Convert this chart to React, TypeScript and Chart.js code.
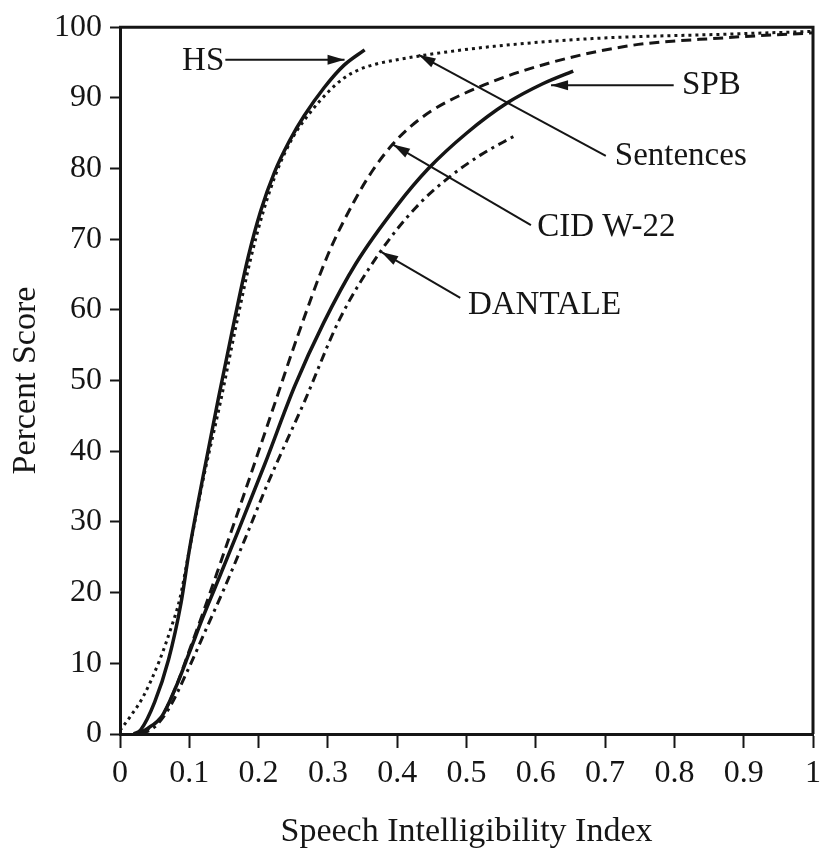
import React, { useEffect, useRef } from 'react';
import { Chart, registerables } from 'chart.js';

Chart.register(...registerables);

// ---- Data ----
const xTickValues = [0, 0.1, 0.2, 0.3, 0.4, 0.5, 0.6, 0.7, 0.8, 0.9, 1];
const yTickValues = [0, 10, 20, 30, 40, 50, 60, 70, 80, 90, 100];

const hsX = [0.02, 0.03, 0.05, 0.07, 0.088, 0.1, 0.12, 0.142, 0.165, 0.185, 0.203, 0.223, 0.245, 0.266, 0.295, 0.323, 0.353];
const hsY = [0, 0.6, 4.5, 10.5, 18.5, 26, 36.5, 47.5, 58.5, 67.5, 74, 79.5, 84, 87.5, 91.5, 94.6, 96.8];

const sentencesX = [0, 0.015, 0.033, 0.057, 0.074, 0.086, 0.1, 0.12, 0.145, 0.168, 0.188, 0.207, 0.228, 0.25, 0.275, 0.3, 0.323, 0.345, 0.37, 0.4, 0.45, 0.54, 0.683, 0.87, 1.0];
const sentencesY = [0.5, 2.5, 5.2, 10.4, 15.1, 19, 26, 36, 47, 58, 67, 74, 80, 84.5, 88, 90.8, 92.8, 94, 94.8, 95.4, 96.2, 97.3, 98.4, 99, 99.4];

const cidX = [0.03, 0.045, 0.061, 0.08, 0.1, 0.12, 0.14, 0.16, 0.18, 0.218, 0.256, 0.3, 0.337, 0.365, 0.394, 0.42, 0.45, 0.494, 0.587, 0.73, 0.872, 1.0];
const cidY = [0, 1, 2.6, 6.5, 11.8, 17.2, 22.8, 28.5, 34.2, 45.2, 56.2, 67.8, 75.2, 79.8, 83.5, 86, 88.2, 90.5, 94, 97.3, 98.5, 99.2];

const spbX = [0.025, 0.04, 0.061, 0.08, 0.1, 0.12, 0.138, 0.17, 0.209, 0.252, 0.294, 0.34, 0.4, 0.445, 0.5, 0.559, 0.61, 0.654];
const spbY = [0, 0.8, 2.6, 6.5, 11.5, 16.6, 20.9, 28.6, 38.2, 49.2, 58.2, 66.5, 74.8, 80, 85, 89.3, 92, 93.8];

const dantaleX = [0.03, 0.05, 0.07, 0.1, 0.125, 0.15, 0.18, 0.213, 0.266, 0.317, 0.374, 0.427, 0.469, 0.52, 0.569];
const dantaleY = [0, 1, 3.5, 9.5, 15, 20.5, 27.5, 35.4, 47, 58.7, 68, 74.5, 78.3, 81.9, 84.6];

// Annotation labels with arrows (in data units: label anchor, line start, arrow tip)
const annotationLabels = ['HS', 'SPB', 'Sentences', 'CID W-22', 'DANTALE'];
const annotationTextX = [0.0896, 0.811, 0.714, 0.602, 0.502];
const annotationTextY = [95.2, 91.8, 81.7, 71.7, 60.7];
const arrowStartX = [0.152, 0.799, 0.701, 0.593, 0.491];
const arrowStartY = [95.4, 91.8, 81.8, 72.0, 61.7];
const arrowTipX = [0.324, 0.622, 0.431, 0.394, 0.377];
const arrowTipY = [95.4, 91.8, 96.1, 83.4, 68.2];

const xTitle = 'Speech Intelligibility Index';
const yTitle = 'Percent Score';

const INK = '#151515';
const FONT = '"Liberation Serif", "Times New Roman", serif';

const toPoints = (xs: number[], ys: number[]) => xs.map((x, i) => ({ x, y: ys[i] }));

const annotationPlugin = {
  id: 'annotationsAndFrame',
  afterDatasetsDraw(chart: any) {
    const { ctx, chartArea, scales } = chart;
    const xs = scales.x;
    const ys = scales.y;
    ctx.save();
    // top and right frame
    ctx.strokeStyle = INK;
    ctx.lineWidth = 3;
    ctx.beginPath();
    ctx.moveTo(chartArea.left - 1, chartArea.top);
    ctx.lineTo(chartArea.right, chartArea.top);
    ctx.lineTo(chartArea.right, chartArea.bottom);
    ctx.stroke();

    ctx.font = `33px ${FONT}`;
    ctx.fillStyle = INK;
    ctx.textAlign = 'left';
    ctx.textBaseline = 'middle';
    annotationLabels.forEach((label, i) => {
      const tx = xs.getPixelForValue(annotationTextX[i]);
      const ty = ys.getPixelForValue(annotationTextY[i]);
      ctx.fillText(label, tx, ty);
      const x1 = xs.getPixelForValue(arrowStartX[i]);
      const y1 = ys.getPixelForValue(arrowStartY[i]);
      const x2 = xs.getPixelForValue(arrowTipX[i]);
      const y2 = ys.getPixelForValue(arrowTipY[i]);
      ctx.lineWidth = 2;
      ctx.beginPath();
      ctx.moveTo(x1, y1);
      ctx.lineTo(x2, y2);
      ctx.stroke();
      const ang = Math.atan2(y2 - y1, x2 - x1);
      const len = 17;
      const hw = 5;
      const bx = x2 - len * Math.cos(ang);
      const by = y2 - len * Math.sin(ang);
      ctx.beginPath();
      ctx.moveTo(x2, y2);
      ctx.lineTo(bx + hw * Math.sin(ang), by - hw * Math.cos(ang));
      ctx.lineTo(bx - hw * Math.sin(ang), by + hw * Math.cos(ang));
      ctx.closePath();
      ctx.fill();
    });
    ctx.restore();
  },
};

export default function App() {
  const canvasRef = useRef<HTMLCanvasElement | null>(null);

  useEffect(() => {
    document.body.style.margin = '0';
    const canvas = canvasRef.current;
    if (!canvas) return;
    const common = {
      borderColor: INK,
      backgroundColor: INK,
      pointRadius: 0,
      fill: false,
      cubicInterpolationMode: 'monotone' as const,
    };
    const chart = new Chart(canvas, {
      type: 'line',
      data: {
        datasets: [
          { ...common, label: 'HS', data: toPoints(hsX, hsY), borderWidth: 3.5 },
          { ...common, label: 'Sentences', data: toPoints(sentencesX, sentencesY), borderWidth: 3, borderDash: [3, 4] },
          { ...common, label: 'CID W-22', data: toPoints(cidX, cidY), borderWidth: 3, borderDash: [10, 6] },
          { ...common, label: 'SPB', data: toPoints(spbX, spbY), borderWidth: 3.5 },
          { ...common, label: 'DANTALE', data: toPoints(dantaleX, dantaleY), borderWidth: 3, borderDash: [9, 5, 3, 5] },
        ],
      },
      options: {
        animation: false,
        responsive: false,
        devicePixelRatio: 1,
        layout: { padding: { top: 24, right: 4, left: 0, bottom: 0 } },
        plugins: { legend: { display: false }, tooltip: { enabled: false } },
        scales: {
          x: {
            type: 'linear',
            min: 0,
            max: 1,
            afterBuildTicks: (scale: any) => {
              scale.ticks = xTickValues.map((v) => ({ value: v }));
            },
            afterFit: (scale: any) => {
              scale.height = 115;
            },
            ticks: {
              color: INK,
              font: { family: FONT, size: 32 },
              padding: 6,
              maxRotation: 0,
              autoSkip: false,
              callback: (v: any) => {
                const n = Number(v);
                return n === 0 || n === 1 ? String(n) : n.toFixed(1);
              },
            },
            grid: { drawOnChartArea: false, drawTicks: true, tickLength: 14, tickColor: INK, tickWidth: 2 },
            border: { display: true, color: INK, width: 3 },
            title: {
              display: true,
              text: xTitle,
              color: INK,
              font: { family: FONT, size: 34, lineHeight: 1 },
              padding: { top: 0, bottom: 0 },
            },
          },
          y: {
            type: 'linear',
            min: 0,
            max: 100,
            afterBuildTicks: (scale: any) => {
              scale.ticks = yTickValues.map((v) => ({ value: v }));
            },
            afterFit: (scale: any) => {
              scale.width = 120;
            },
            ticks: {
              color: INK,
              font: { family: FONT, size: 32 },
              padding: 8,
              autoSkip: false,
              callback: (v: any) => String(v),
            },
            grid: { drawOnChartArea: false, drawTicks: true, tickLength: 10, tickColor: INK, tickWidth: 2 },
            border: { display: true, color: INK, width: 3 },
            title: {
              display: true,
              text: yTitle,
              color: INK,
              font: { family: FONT, size: 34, lineHeight: 1 },
              padding: { top: 9, bottom: 0 },
            },
          },
        },
      },
      plugins: [annotationPlugin],
    });
    return () => chart.destroy();
  }, []);

  return (
    <div style={{ position: 'absolute', left: 0, top: 0, width: 827, height: 849, background: '#fff' }}>
      <canvas ref={canvasRef} width={827} height={849} style={{ width: 827, height: 849, display: 'block' }} />
    </div>
  );
}
